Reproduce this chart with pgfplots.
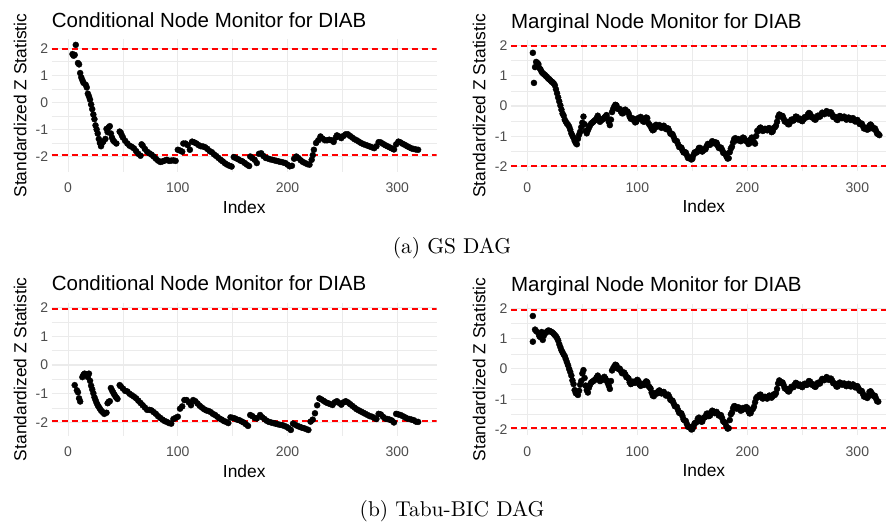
\documentclass[border=0pt]{standalone}
\usepackage{pgfplots}
\usepackage{pgfplotstable}
\pgfplotsset{compat=1.18}
\usepackage{fontspec}
\newfontfamily\arial{Liberation Sans}
\definecolor{gridgrey}{HTML}{EBEBEB}
\definecolor{ticktext}{HTML}{4D4D4D}
\definecolor{limitred}{HTML}{FF0000}

% Conditional node monitor, GS DAG
\pgfplotstableread{
idx z
4 1.78
5 1.72
6 1.75
7 2.12
9 1.45
10 1.40
11 1.08
12 0.92
13 0.82
14 0.72
16 0.65
17 0.55
18 0.32
19 0.22
20 0.10
21 -0.08
22 -0.25
23 -0.45
24 -0.62
25 -0.85
26 -1.00
27 -1.15
28 -1.35
29 -1.50
30 -1.62
31 -1.50
32 -1.45
34 -1.35
35 -0.98
36 -1.10
37 -0.92
38 -0.88
39 -1.15
40 -1.30
41 -1.40
42 -1.45
44 -1.52
47 -1.08
48 -1.12
49 -1.22
50 -1.30
52 -1.42
54 -1.52
56 -1.60
58 -1.64
60 -1.70
62 -1.80
64 -1.90
66 -1.97
67 -1.55
68 -1.60
70 -1.72
72 -1.82
74 -1.88
76 -1.93
78 -2.00
80 -2.08
82 -2.15
84 -2.20
86 -2.18
88 -2.15
90 -2.12
92 -2.16
94 -2.15
96 -2.14
98 -2.16
100 -1.75
102 -1.78
104 -1.82
105 -1.52
107 -1.52
109 -1.58
111 -1.75
113 -1.45
115 -1.48
117 -1.52
119 -1.58
121 -1.62
123 -1.63
125 -1.66
127 -1.72
129 -1.80
131 -1.84
133 -1.92
135 -1.98
137 -2.05
139 -2.12
141 -2.18
143 -2.25
145 -2.30
147 -2.34
149 -2.37
151 -2.02
153 -2.06
155 -2.10
157 -2.15
159 -2.18
161 -2.24
163 -2.30
165 -2.35
166 -2.00
168 -2.06
170 -2.12
172 -2.24
174 -1.90
176 -1.88
178 -1.98
180 -2.05
182 -2.07
184 -2.10
186 -2.12
188 -2.14
190 -2.16
192 -2.18
194 -2.20
196 -2.22
198 -2.24
200 -2.30
202 -2.36
204 -2.34
206 -2.08
208 -2.00
210 -2.06
212 -2.14
214 -2.20
216 -2.24
218 -2.28
220 -2.30
222 -2.12
223 -1.95
224 -1.75
226 -1.50
228 -1.40
230 -1.26
232 -1.34
234 -1.40
236 -1.40
238 -1.38
240 -1.40
242 -1.46
244 -1.30
245 -1.22
247 -1.26
249 -1.32
251 -1.24
253 -1.18
255 -1.18
257 -1.24
259 -1.30
261 -1.36
263 -1.40
265 -1.45
267 -1.50
269 -1.54
271 -1.57
273 -1.60
275 -1.63
277 -1.66
279 -1.69
281 -1.62
283 -1.47
285 -1.48
287 -1.53
289 -1.58
291 -1.62
293 -1.66
295 -1.70
297 -1.74
299 -1.55
301 -1.45
303 -1.48
305 -1.53
307 -1.57
309 -1.62
311 -1.66
313 -1.70
315 -1.72
317 -1.74
319 -1.75
}\condgs

% Marginal node monitor, GS DAG
\pgfplotstableread{
idx z
5 1.75
6 0.76
7 1.28
8 1.45
9 1.42
10 1.38
11 1.25
12 1.20
13 1.12
14 1.08
15 1.05
16 1.02
17 0.98
18 0.95
19 0.90
20 0.88
21 0.84
22 0.80
23 0.78
24 0.74
25 0.68
26 0.55
27 0.42
28 0.28
29 0.15
30 0.02
31 -0.12
32 -0.25
33 -0.32
34 -0.45
35 -0.52
36 -0.58
37 -0.62
38 -0.68
39 -0.78
40 -0.90
41 -0.98
42 -1.05
43 -1.15
44 -1.22
45 -1.26
46 -1.08
47 -0.95
48 -0.85
49 -0.70
50 -0.55
51 -0.35
52 -0.60
53 -0.82
54 -0.90
55 -0.80
56 -0.72
57 -0.64
58 -0.58
59 -0.55
60 -0.52
61 -0.48
62 -0.46
63 -0.40
64 -0.32
65 -0.42
66 -0.52
67 -0.48
68 -0.45
69 -0.42
70 -0.38
71 -0.34
72 -0.30
73 -0.42
74 -0.52
75 -0.63
76 -0.45
77 -0.20
78 -0.10
79 -0.02
80 0.04
81 0.02
82 -0.09
83 -0.10
84 -0.10
85 -0.18
86 -0.24
87 -0.24
88 -0.14
89 -0.12
90 -0.18
91 -0.18
92 -0.24
93 -0.35
94 -0.42
95 -0.42
96 -0.41
97 -0.48
98 -0.54
99 -0.52
100 -0.42
101 -0.40
102 -0.42
103 -0.36
104 -0.40
105 -0.50
106 -0.52
107 -0.46
108 -0.38
109 -0.40
110 -0.56
111 -0.62
112 -0.66
113 -0.75
114 -0.80
115 -0.78
116 -0.66
117 -0.62
118 -0.68
119 -0.66
120 -0.63
121 -0.68
122 -0.72
123 -0.68
124 -0.65
125 -0.70
126 -0.76
127 -0.74
128 -0.74
129 -0.82
130 -0.91
131 -0.92
132 -0.93
133 -1.02
134 -1.12
135 -1.14
136 -1.16
137 -1.26
138 -1.35
139 -1.36
140 -1.37
141 -1.46
142 -1.53
143 -1.52
144 -1.53
145 -1.62
146 -1.71
147 -1.72
148 -1.70
149 -1.76
150 -1.74
151 -1.62
152 -1.53
153 -1.52
154 -1.53
155 -1.46
156 -1.38
157 -1.38
158 -1.48
159 -1.50
160 -1.43
161 -1.44
162 -1.42
163 -1.32
164 -1.25
165 -1.26
166 -1.28
167 -1.22
168 -1.16
169 -1.18
170 -1.23
171 -1.20
172 -1.21
173 -1.30
174 -1.38
175 -1.38
176 -1.37
177 -1.44
178 -1.54
179 -1.56
180 -1.57
181 -1.66
182 -1.73
183 -1.72
184 -1.52
185 -1.40
186 -1.34
187 -1.20
188 -1.09
189 -1.06
190 -1.13
191 -1.12
192 -1.09
193 -1.14
194 -1.16
195 -1.10
196 -1.04
197 -1.06
198 -1.14
199 -1.14
200 -1.16
201 -1.25
202 -1.22
203 -1.10
204 -1.04
205 -1.06
206 -1.19
207 -1.24
208 -0.99
209 -0.82
210 -0.82
211 -0.74
212 -0.71
213 -0.76
214 -0.82
215 -0.80
216 -0.75
217 -0.78
218 -0.80
219 -0.74
220 -0.73
221 -0.80
222 -0.86
223 -0.84
224 -0.73
225 -0.70
226 -0.65
227 -0.52
228 -0.36
229 -0.28
230 -0.34
231 -0.32
232 -0.33
233 -0.42
234 -0.51
235 -0.52
236 -0.52
237 -0.60
238 -0.60
239 -0.52
240 -0.45
241 -0.46
242 -0.48
243 -0.42
244 -0.35
245 -0.36
246 -0.44
247 -0.44
248 -0.42
249 -0.48
250 -0.50
251 -0.44
252 -0.37
253 -0.38
254 -0.37
255 -0.28
256 -0.23
257 -0.26
258 -0.36
259 -0.38
260 -0.37
261 -0.44
262 -0.45
263 -0.38
264 -0.32
265 -0.34
266 -0.35
267 -0.28
268 -0.22
269 -0.24
270 -0.27
271 -0.22
272 -0.17
273 -0.20
274 -0.25
275 -0.22
276 -0.21
277 -0.28
278 -0.36
279 -0.36
280 -0.36
281 -0.44
282 -0.46
283 -0.40
284 -0.33
285 -0.35
286 -0.40
287 -0.38
288 -0.35
289 -0.40
290 -0.45
291 -0.42
292 -0.38
293 -0.42
294 -0.46
295 -0.42
296 -0.40
297 -0.46
298 -0.51
299 -0.48
300 -0.46
301 -0.52
302 -0.59
303 -0.58
304 -0.58
305 -0.66
306 -0.74
307 -0.74
308 -0.72
309 -0.78
310 -0.76
311 -0.65
312 -0.61
313 -0.66
314 -0.74
315 -0.74
316 -0.74
317 -0.82
318 -0.91
319 -0.92
320 -0.96
}\margs

% Conditional node monitor, Tabu-BIC DAG
\pgfplotstableread{
idx z
6 -0.70
8 -0.88
9 -0.95
10 -1.16
11 -1.27
13 -0.42
14 -0.34
15 -0.30
17 -0.32
18 -0.42
19 -0.30
20 -0.55
21 -0.72
22 -0.85
23 -0.98
24 -1.12
25 -1.22
26 -1.32
27 -1.40
28 -1.46
29 -1.52
30 -1.58
31 -1.62
32 -1.66
33 -1.70
35 -1.66
36 -1.33
37 -1.28
38 -1.26
39 -0.80
40 -0.88
41 -0.95
42 -1.02
43 -1.08
44 -1.14
45 -1.18
47 -0.70
48 -0.74
50 -0.82
52 -0.90
54 -0.92
56 -1.00
58 -1.05
60 -1.10
62 -1.16
64 -1.24
66 -1.32
68 -1.40
70 -1.48
72 -1.56
74 -1.56
76 -1.58
78 -1.64
80 -1.70
82 -1.78
84 -1.84
86 -1.90
88 -1.95
90 -1.98
92 -2.02
94 -2.04
96 -1.88
98 -1.84
100 -1.80
102 -1.52
104 -1.44
106 -1.22
108 -1.22
110 -1.30
112 -1.40
114 -1.22
116 -1.26
118 -1.34
120 -1.42
122 -1.48
124 -1.54
126 -1.58
128 -1.60
130 -1.64
132 -1.70
134 -1.74
136 -1.80
138 -1.86
140 -1.90
142 -1.95
144 -1.98
146 -2.02
148 -1.82
150 -1.84
152 -1.86
154 -1.90
156 -1.92
158 -1.96
160 -2.00
162 -2.06
164 -2.12
166 -1.74
168 -1.78
170 -1.84
172 -1.86
175 -1.74
177 -1.82
179 -1.88
181 -1.94
183 -1.98
185 -2.00
187 -2.02
189 -2.04
191 -2.06
193 -2.08
195 -2.09
197 -2.12
199 -2.15
201 -2.20
203 -2.26
205 -2.04
207 -2.08
209 -2.12
211 -2.15
213 -2.18
215 -2.20
217 -2.23
219 -2.26
221 -1.97
223 -1.90
225 -1.68
227 -1.40
229 -1.16
231 -1.20
233 -1.25
235 -1.30
237 -1.33
239 -1.36
241 -1.39
243 -1.30
245 -1.26
247 -1.32
249 -1.38
251 -1.30
253 -1.26
255 -1.30
257 -1.36
259 -1.42
261 -1.48
263 -1.54
265 -1.58
267 -1.62
269 -1.66
271 -1.70
273 -1.74
275 -1.78
277 -1.80
279 -1.84
281 -1.88
283 -1.70
285 -1.72
287 -1.80
289 -1.86
291 -1.88
293 -1.90
295 -1.93
297 -2.00
299 -1.70
301 -1.72
303 -1.74
305 -1.78
307 -1.82
309 -1.86
311 -1.88
313 -1.90
315 -1.92
317 -1.97
319 -1.98
}\condtabu

% Marginal node monitor, Tabu-BIC DAG
\pgfplotstableread{
idx z
5 1.75
5 0.90
7 1.30
8 1.25
10 1.18
11 1.08
12 1.05
13 1.22
14 0.96
15 1.10
16 1.18
17 1.20
18 1.24
19 1.27
20 1.26
21 1.24
22 1.22
23 1.20
24 1.16
25 1.12
26 1.08
27 1.02
28 0.94
29 0.82
30 0.72
31 0.62
32 0.55
33 0.48
34 0.42
35 0.32
36 0.22
37 0.12
38 0.00
39 -0.10
40 -0.22
41 -0.38
42 -0.50
43 -0.70
44 -0.80
45 -0.82
46 -0.86
47 -0.72
48 -0.52
49 -0.40
50 -0.15
51 -0.04
52 -0.30
53 -0.55
54 -0.70
55 -0.78
56 -0.62
57 -0.52
58 -0.45
59 -0.42
60 -0.40
61 -0.37
62 -0.34
63 -0.28
64 -0.22
65 -0.30
66 -0.40
67 -0.38
68 -0.36
69 -0.30
70 -0.26
71 -0.32
72 -0.38
73 -0.46
74 -0.55
75 -0.66
76 -0.40
77 -0.05
78 0.02
79 0.08
80 0.14
81 0.12
82 0.02
83 0.00
84 0.01
85 -0.06
86 -0.14
87 -0.14
88 -0.12
89 -0.18
90 -0.27
91 -0.28
92 -0.32
93 -0.44
94 -0.50
95 -0.48
96 -0.42
97 -0.44
98 -0.46
99 -0.40
100 -0.36
101 -0.40
102 -0.52
103 -0.56
104 -0.50
105 -0.52
106 -0.53
107 -0.46
108 -0.41
109 -0.44
110 -0.56
111 -0.60
112 -0.65
113 -0.78
114 -0.88
115 -0.90
116 -0.81
117 -0.80
118 -0.81
119 -0.74
120 -0.71
121 -0.76
122 -0.81
123 -0.78
124 -0.76
125 -0.82
126 -0.88
127 -0.86
128 -0.85
129 -0.92
130 -1.02
131 -1.04
132 -1.05
133 -1.14
134 -1.23
135 -1.24
136 -1.26
137 -1.36
138 -1.45
139 -1.46
140 -1.47
141 -1.56
142 -1.67
143 -1.70
144 -1.72
145 -1.82
146 -1.91
147 -1.92
148 -1.92
149 -2.00
150 -1.99
151 -1.90
152 -1.80
153 -1.78
154 -1.75
155 -1.64
156 -1.61
157 -1.66
158 -1.74
159 -1.74
160 -1.63
161 -1.60
162 -1.58
163 -1.48
164 -1.48
165 -1.56
166 -1.54
167 -1.44
168 -1.38
169 -1.40
170 -1.46
171 -1.44
172 -1.42
173 -1.48
174 -1.54
175 -1.52
176 -1.53
177 -1.62
178 -1.73
179 -1.76
180 -1.79
181 -1.90
182 -1.97
183 -1.96
184 -1.69
185 -1.50
186 -1.44
187 -1.30
188 -1.23
189 -1.24
190 -1.31
191 -1.30
192 -1.27
193 -1.32
194 -1.38
195 -1.36
196 -1.29
197 -1.30
198 -1.32
199 -1.26
200 -1.29
201 -1.40
202 -1.47
203 -1.46
204 -1.35
205 -1.32
206 -1.25
207 -1.10
208 -0.97
209 -0.92
210 -0.93
211 -0.86
212 -0.85
213 -0.92
214 -0.98
215 -0.96
216 -0.92
217 -0.96
218 -0.98
219 -0.92
220 -0.88
221 -0.92
222 -0.95
223 -0.90
224 -0.84
225 -0.86
226 -0.80
227 -0.66
228 -0.48
229 -0.38
230 -0.45
231 -0.44
232 -0.45
233 -0.54
234 -0.64
235 -0.66
236 -0.66
237 -0.74
238 -0.74
239 -0.66
240 -0.59
241 -0.60
242 -0.60
243 -0.52
244 -0.46
245 -0.48
246 -0.55
247 -0.54
248 -0.52
249 -0.58
250 -0.60
251 -0.54
252 -0.49
253 -0.52
254 -0.53
255 -0.46
256 -0.40
257 -0.42
258 -0.51
259 -0.52
260 -0.51
261 -0.58
262 -0.59
263 -0.52
264 -0.46
265 -0.48
266 -0.48
267 -0.40
268 -0.33
269 -0.34
270 -0.37
271 -0.32
272 -0.27
273 -0.30
274 -0.36
275 -0.34
276 -0.32
277 -0.38
278 -0.47
279 -0.48
280 -0.49
281 -0.58
282 -0.58
283 -0.50
284 -0.45
285 -0.47
286 -0.52
287 -0.50
288 -0.48
289 -0.53
290 -0.57
291 -0.53
292 -0.49
293 -0.53
294 -0.58
295 -0.54
296 -0.51
297 -0.56
298 -0.61
299 -0.58
300 -0.57
301 -0.64
302 -0.72
303 -0.72
304 -0.73
305 -0.82
306 -0.91
307 -0.92
308 -0.90
309 -0.96
310 -0.90
311 -0.76
312 -0.74
313 -0.80
314 -0.88
315 -0.88
316 -0.89
317 -0.98
318 -1.07
319 -1.08
}\martabu

\pgfplotsset{
  monitor/.style={
    scale only axis,
    anchor=south west,
    width=385bp,
    xmin=-14.95, xmax=335.95,
    xtick={0,100,200,300},
    minor xtick={50,150,250},
    ytick={-2,-1,0,1,2},
    minor ytick={-1.5,-0.5,0.5,1.5},
    grid=both,
    major grid style={draw=gridgrey, line width=1.07bp},
    minor grid style={draw=gridgrey, line width=0.53bp},
    axis line style={draw=none},
    tick style={draw=none},
    /pgf/number format/assume math mode=true,
    ticklabel style={font=\arial\fontsize{14bp}{16bp}\selectfont, text=ticktext, inner sep=0pt},
    xticklabel shift=11bp,
    yticklabel shift=3.4bp,
    xlabel={Index},
    ylabel={Standardized Z Statistic},
    every axis x label/.style={at={(axis description cs:0.5,0)}, anchor=north, yshift=-28.5bp,
      font=\arial\fontsize{17.4bp}{20bp}\selectfont, inner sep=0pt},
    every axis y label/.style={at={(axis description cs:-0.065,0.5)}, rotate=90, anchor=south,
      font=\arial\fontsize{17.4bp}{20bp}\selectfont, inner sep=0pt},
    every axis title/.style={at={(axis description cs:0,1)}, anchor=base west, yshift=12bp,
      font=\arial\fontsize{20.5bp}{24bp}\selectfont, inner sep=0pt},
  },
  zpoints/.style={only marks, mark=*, mark size=3bp, color=black, mark options={draw=black, fill=black}},
  zlimit/.style={no marks, draw=limitred, color=limitred, line width=2bp, dash pattern=on 6bp off 4bp, forget plot},
}

\begin{document}
\begin{tikzpicture}[x=1bp, y=1bp]
\useasboundingbox (0,0) rectangle (886,526);

\begin{axis}[monitor, at={(51.7bp,354bp)}, height=132.8bp, ymin=-2.57, ymax=2.33,
  title={Conditional Node Monitor for DIAB}]
  \addplot[zlimit] coordinates {(-14.95,1.96) (335.95,1.96)};
  \addplot[zlimit] coordinates {(-14.95,-1.96) (335.95,-1.96)};
  \addplot[zpoints] table[x=idx, y=z] {\condgs};
\end{axis}

\begin{axis}[monitor, at={(510.9bp,354.5bp)}, width=386bp, height=131bp, ymin=-2.156, ymax=2.156,
  title={Marginal Node Monitor for DIAB}]
  \addplot[zlimit] coordinates {(-14.95,1.96) (335.95,1.96)};
  \addplot[zlimit] coordinates {(-14.95,-1.96) (335.95,-1.96)};
  \addplot[zpoints] table[x=idx, y=z] {\margs};
\end{axis}

\begin{axis}[monitor, at={(51.7bp,90.3bp)}, height=133bp, ymin=-2.46, ymax=2.17,
  title={Conditional Node Monitor for DIAB}]
  \addplot[zlimit] coordinates {(-14.95,1.96) (335.95,1.96)};
  \addplot[zlimit] coordinates {(-14.95,-1.96) (335.95,-1.96)};
  \addplot[zpoints] table[x=idx, y=z] {\condtabu};
\end{axis}

\begin{axis}[monitor, at={(510.9bp,90.5bp)}, width=386bp, height=131.9bp, ymin=-2.2, ymax=2.16,
  title={Marginal Node Monitor for DIAB}]
  \addplot[zlimit] coordinates {(-14.95,1.96) (335.95,1.96)};
  \addplot[zlimit] coordinates {(-14.95,-1.96) (335.95,-1.96)};
  \addplot[zpoints] table[x=idx, y=z] {\martabu};
\end{axis}

\node[scale=2.15, inner sep=0pt] at (452,278) {(a) GS DAG};
\node[scale=2.15, inner sep=0pt] at (452,15) {(b) Tabu-BIC DAG};
\end{tikzpicture}
\end{document}
